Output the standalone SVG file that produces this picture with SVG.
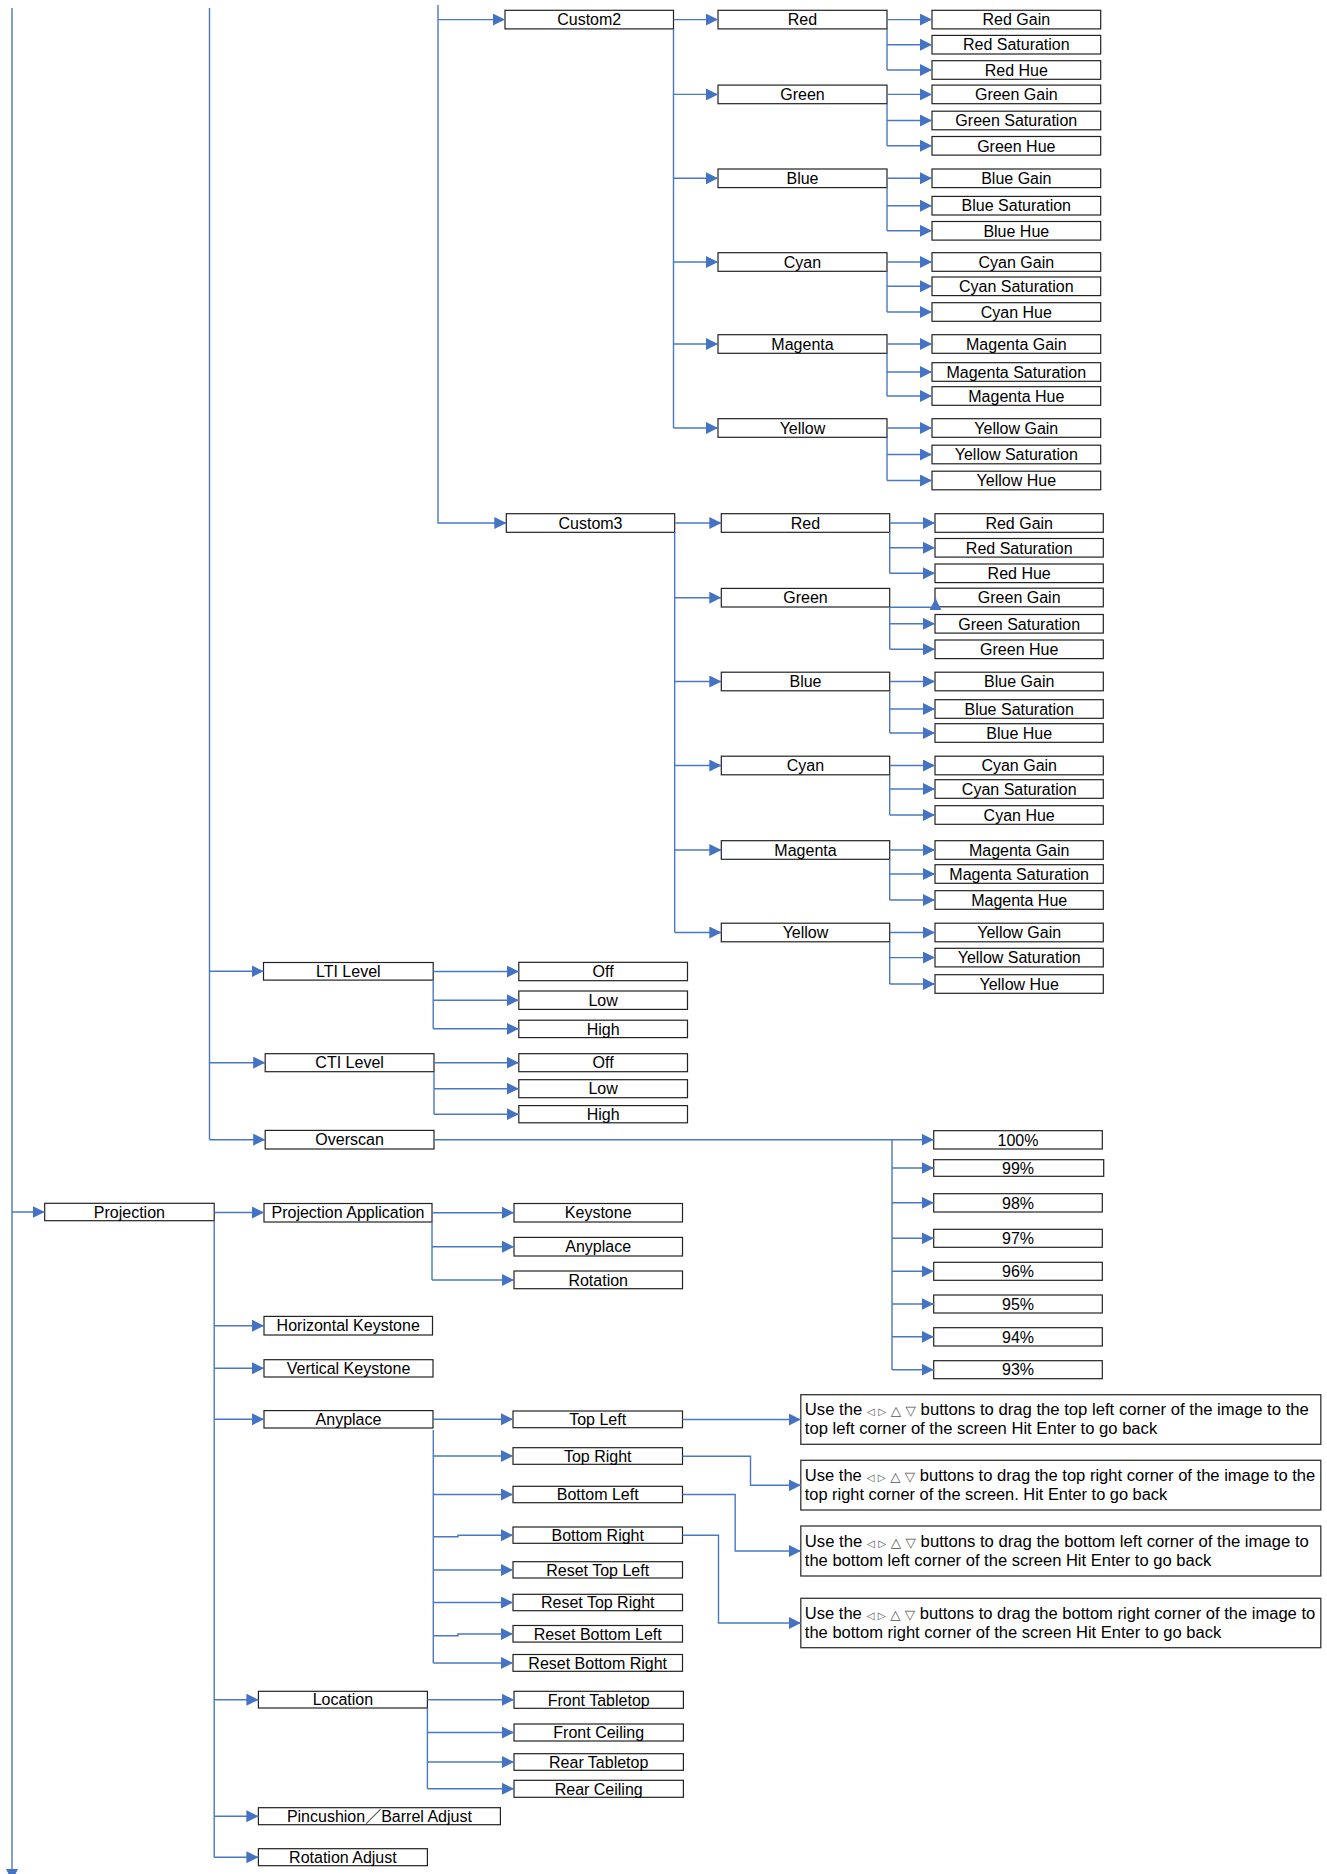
<svg xmlns="http://www.w3.org/2000/svg" width="1327" height="1874" viewBox="0 0 1327 1874">
<style>
.n rect{fill:#fff;stroke:#222;stroke-width:1.2}
.n text{font-family:"Liberation Sans",Arial,sans-serif;font-size:16px;text-anchor:middle;fill:#000}
.tb rect{fill:#fff;stroke:#333;stroke-width:1.3}
.tb text{font-family:"Liberation Sans",Arial,"DejaVu Sans",sans-serif;font-size:16px;fill:#000}
.sym{fill:#555;font-family:"DejaVu Sans",sans-serif}
.s1{font-size:10px}
.s2{font-size:13px}
.c path{fill:none;stroke:#4a78c2;stroke-width:1.4}
.c .a{marker-end:url(#ar)}
</style>
<defs>
<marker id="ar" markerUnits="userSpaceOnUse" markerWidth="12" markerHeight="12" refX="12" refY="6" orient="auto">
<path d="M0,0 L12,6 L0,12 z" fill="#4472c4"/>
</marker>
</defs>
<rect width="1327" height="1874" fill="#fff"/>

<!-- Custom2 -->
<g class="n" id="custom2"><rect x="505" y="10.3" width="168.5" height="18.6"/><text x="589.2" y="25.3">Custom2</text></g>
<g class="n" id="c2-red"><rect x="718" y="10.3" width="169" height="18.6"/><text x="802.5" y="25.3">Red</text></g>
<g class="n" id="c2-green"><rect x="718" y="85.1" width="169" height="18.6"/><text x="802.5" y="100.1">Green</text></g>
<g class="n" id="c2-blue"><rect x="718" y="169" width="169" height="18.6"/><text x="802.5" y="184">Blue</text></g>
<g class="n" id="c2-cyan"><rect x="718" y="252.7" width="169" height="18.6"/><text x="802.5" y="267.7">Cyan</text></g>
<g class="n" id="c2-magenta"><rect x="718" y="334.7" width="169" height="18.6"/><text x="802.5" y="349.7">Magenta</text></g>
<g class="n" id="c2-yellow"><rect x="718" y="418.7" width="169" height="18.6"/><text x="802.5" y="433.7">Yellow</text></g>

<g class="n" id="c2-red-gain"><rect x="932" y="10.3" width="168.7" height="18.6"/><text x="1016.3" y="25.3">Red Gain</text></g>
<g class="n" id="c2-red-sat"><rect x="932" y="35.4" width="168.7" height="18.6"/><text x="1016.3" y="50.4">Red Saturation</text></g>
<g class="n" id="c2-red-hue"><rect x="932" y="60.7" width="168.7" height="18.6"/><text x="1016.3" y="75.7">Red Hue</text></g>
<g class="n" id="c2-green-gain"><rect x="932" y="85.1" width="168.7" height="18.6"/><text x="1016.3" y="100.1">Green Gain</text></g>
<g class="n" id="c2-green-sat"><rect x="932" y="111.2" width="168.7" height="18.6"/><text x="1016.3" y="126.2">Green Saturation</text></g>
<g class="n" id="c2-green-hue"><rect x="932" y="136.5" width="168.7" height="18.6"/><text x="1016.3" y="151.5">Green Hue</text></g>
<g class="n" id="c2-blue-gain"><rect x="932" y="169" width="168.7" height="18.6"/><text x="1016.3" y="184">Blue Gain</text></g>
<g class="n" id="c2-blue-sat"><rect x="932" y="196.4" width="168.7" height="18.6"/><text x="1016.3" y="211.4">Blue Saturation</text></g>
<g class="n" id="c2-blue-hue"><rect x="932" y="221.5" width="168.7" height="18.6"/><text x="1016.3" y="236.5">Blue Hue</text></g>
<g class="n" id="c2-cyan-gain"><rect x="932" y="252.7" width="168.7" height="18.6"/><text x="1016.3" y="267.7">Cyan Gain</text></g>
<g class="n" id="c2-cyan-sat"><rect x="932" y="277" width="168.7" height="18.6"/><text x="1016.3" y="292">Cyan Saturation</text></g>
<g class="n" id="c2-cyan-hue"><rect x="932" y="302.7" width="168.7" height="18.6"/><text x="1016.3" y="317.7">Cyan Hue</text></g>
<g class="n" id="c2-magenta-gain"><rect x="932" y="334.7" width="168.7" height="18.6"/><text x="1016.3" y="349.7">Magenta Gain</text></g>
<g class="n" id="c2-magenta-sat"><rect x="932" y="362.7" width="168.7" height="18.6"/><text x="1016.3" y="377.7">Magenta Saturation</text></g>
<g class="n" id="c2-magenta-hue"><rect x="932" y="386.7" width="168.7" height="18.6"/><text x="1016.3" y="401.7">Magenta Hue</text></g>
<g class="n" id="c2-yellow-gain"><rect x="932" y="418.7" width="168.7" height="18.6"/><text x="1016.3" y="433.7">Yellow Gain</text></g>
<g class="n" id="c2-yellow-sat"><rect x="932" y="445.2" width="168.7" height="18.6"/><text x="1016.3" y="460.2">Yellow Saturation</text></g>
<g class="n" id="c2-yellow-hue"><rect x="932" y="471.2" width="168.7" height="18.6"/><text x="1016.3" y="486.2">Yellow Hue</text></g>

<!-- Custom3 -->
<g class="n" id="custom3"><rect x="506.3" y="513.7" width="168.4" height="18.6"/><text x="590.5" y="528.7">Custom3</text></g>
<g class="n" id="c3-red"><rect x="721.3" y="513.7" width="168.4" height="18.6"/><text x="805.5" y="528.7">Red</text></g>
<g class="n" id="c3-green"><rect x="721.3" y="588.4" width="168.4" height="18.6"/><text x="805.5" y="603.4">Green</text></g>
<g class="n" id="c3-blue"><rect x="721.3" y="672.2" width="168.4" height="18.6"/><text x="805.5" y="687.2">Blue</text></g>
<g class="n" id="c3-cyan"><rect x="721.3" y="756.2" width="168.4" height="18.6"/><text x="805.5" y="771.2">Cyan</text></g>
<g class="n" id="c3-magenta"><rect x="721.3" y="840.7" width="168.4" height="18.6"/><text x="805.5" y="855.7">Magenta</text></g>
<g class="n" id="c3-yellow"><rect x="721.3" y="923.2" width="168.4" height="18.6"/><text x="805.5" y="938.2">Yellow</text></g>

<g class="n" id="c3-red-gain"><rect x="935" y="513.7" width="168.3" height="18.6"/><text x="1019.2" y="528.7">Red Gain</text></g>
<g class="n" id="c3-red-sat"><rect x="935" y="538.5" width="168.3" height="18.6"/><text x="1019.2" y="553.5">Red Saturation</text></g>
<g class="n" id="c3-red-hue"><rect x="935" y="564" width="168.3" height="18.6"/><text x="1019.2" y="579">Red Hue</text></g>
<g class="n" id="c3-green-gain"><rect x="935" y="588.2" width="168.3" height="18.6"/><text x="1019.2" y="603.2">Green Gain</text></g>
<g class="n" id="c3-green-sat"><rect x="935" y="614.5" width="168.3" height="18.6"/><text x="1019.2" y="629.5">Green Saturation</text></g>
<g class="n" id="c3-green-hue"><rect x="935" y="640" width="168.3" height="18.6"/><text x="1019.2" y="655">Green Hue</text></g>
<g class="n" id="c3-blue-gain"><rect x="935" y="672.2" width="168.3" height="18.6"/><text x="1019.2" y="687.2">Blue Gain</text></g>
<g class="n" id="c3-blue-sat"><rect x="935" y="699.7" width="168.3" height="18.6"/><text x="1019.2" y="714.7">Blue Saturation</text></g>
<g class="n" id="c3-blue-hue"><rect x="935" y="723.7" width="168.3" height="18.6"/><text x="1019.2" y="738.7">Blue Hue</text></g>
<g class="n" id="c3-cyan-gain"><rect x="935" y="756.2" width="168.3" height="18.6"/><text x="1019.2" y="771.2">Cyan Gain</text></g>
<g class="n" id="c3-cyan-sat"><rect x="935" y="779.7" width="168.3" height="18.6"/><text x="1019.2" y="794.7">Cyan Saturation</text></g>
<g class="n" id="c3-cyan-hue"><rect x="935" y="805.7" width="168.3" height="18.6"/><text x="1019.2" y="820.7">Cyan Hue</text></g>
<g class="n" id="c3-magenta-gain"><rect x="935" y="840.7" width="168.3" height="18.6"/><text x="1019.2" y="855.7">Magenta Gain</text></g>
<g class="n" id="c3-magenta-sat"><rect x="935" y="864.7" width="168.3" height="18.6"/><text x="1019.2" y="879.7">Magenta Saturation</text></g>
<g class="n" id="c3-magenta-hue"><rect x="935" y="890.7" width="168.3" height="18.6"/><text x="1019.2" y="905.7">Magenta Hue</text></g>
<g class="n" id="c3-yellow-gain"><rect x="935" y="923.2" width="168.3" height="18.6"/><text x="1019.2" y="938.2">Yellow Gain</text></g>
<g class="n" id="c3-yellow-sat"><rect x="935" y="948.3" width="168.3" height="18.6"/><text x="1019.2" y="963.3">Yellow Saturation</text></g>
<g class="n" id="c3-yellow-hue"><rect x="935" y="974.7" width="168.3" height="18.6"/><text x="1019.2" y="989.7">Yellow Hue</text></g>

<!-- LTI / CTI / Overscan -->
<g class="n" id="lti"><rect x="263.5" y="962.5" width="169.7" height="17.6"/><text x="348.3" y="977">LTI Level</text></g>
<g class="n" id="lti-off"><rect x="518.8" y="962.3" width="168.7" height="18.4"/><text x="603.1" y="977.2">Off</text></g>
<g class="n" id="lti-low"><rect x="518.8" y="991" width="168.7" height="18.4"/><text x="603.1" y="1005.9">Low</text></g>
<g class="n" id="lti-high"><rect x="518.8" y="1020.2" width="168.7" height="17.4"/><text x="603.1" y="1034.5">High</text></g>
<g class="n" id="cti"><rect x="265.2" y="1053.7" width="168.8" height="18"/><text x="349.6" y="1068.4">CTI Level</text></g>
<g class="n" id="cti-off"><rect x="518.8" y="1053.7" width="168.7" height="18"/><text x="603.1" y="1068.4">Off</text></g>
<g class="n" id="cti-low"><rect x="518.8" y="1079.7" width="168.7" height="18"/><text x="603.1" y="1094.4">Low</text></g>
<g class="n" id="cti-high"><rect x="518.8" y="1105.6" width="168.7" height="17.2"/><text x="603.1" y="1119.9">High</text></g>
<g class="n" id="overscan"><rect x="265.2" y="1130.4" width="168.8" height="18.6"/><text x="349.6" y="1145.4">Overscan</text></g>
<g class="n" id="p100"><rect x="933.7" y="1130.7" width="168.6" height="18.3"/><text x="1018" y="1145.5">100%</text></g>
<g class="n" id="p99"><rect x="933.7" y="1159.7" width="170" height="16.6"/><text x="1018" y="1173.7">99%</text></g>
<g class="n" id="p98"><rect x="933.7" y="1193.7" width="168.6" height="18.3"/><text x="1018" y="1208.5">98%</text></g>
<g class="n" id="p97"><rect x="933.7" y="1229.3" width="168.6" height="18"/><text x="1018" y="1244">97%</text></g>
<g class="n" id="p96"><rect x="933.7" y="1262.3" width="168.6" height="18"/><text x="1018" y="1277">96%</text></g>
<g class="n" id="p95"><rect x="933.7" y="1295" width="168.6" height="18"/><text x="1018" y="1309.7">95%</text></g>
<g class="n" id="p94"><rect x="933.7" y="1327.7" width="168.6" height="18.3"/><text x="1018" y="1342.5">94%</text></g>
<g class="n" id="p93"><rect x="933.7" y="1360.7" width="168.6" height="18"/><text x="1018" y="1375.4">93%</text></g>

<!-- Projection -->
<g class="n" id="projection"><rect x="44.7" y="1203.3" width="169.5" height="17.4"/><text x="129.4" y="1217.7">Projection</text></g>
<g class="n" id="proj-app"><rect x="264" y="1203.5" width="168" height="18.5"/><text x="348" y="1218.4">Projection Application</text></g>
<g class="n" id="pa-keystone"><rect x="514" y="1203.5" width="168.5" height="18.5"/><text x="598.2" y="1218.4">Keystone</text></g>
<g class="n" id="pa-anyplace"><rect x="514" y="1237.4" width="168.5" height="18.6"/><text x="598.2" y="1252.4">Anyplace</text></g>
<g class="n" id="pa-rotation"><rect x="514" y="1271" width="168.5" height="17.7"/><text x="598.2" y="1285.6">Rotation</text></g>
<g class="n" id="h-keystone"><rect x="264" y="1316.4" width="168.5" height="18.6"/><text x="348.2" y="1331.4">Horizontal Keystone</text></g>
<g class="n" id="v-keystone"><rect x="264" y="1359.7" width="169" height="17.3"/><text x="348.5" y="1374">Vertical Keystone</text></g>
<g class="n" id="anyplace"><rect x="264" y="1410.6" width="169" height="17.4"/><text x="348.5" y="1425">Anyplace</text></g>
<g class="n" id="top-left"><rect x="513" y="1411" width="169.5" height="16.7"/><text x="597.7" y="1425">Top Left</text></g>
<g class="n" id="top-right"><rect x="513" y="1447.7" width="169.5" height="16.6"/><text x="597.7" y="1461.7">Top Right</text></g>
<g class="n" id="bottom-left"><rect x="513" y="1486.3" width="169.5" height="16.4"/><text x="597.7" y="1500.2">Bottom Left</text></g>
<g class="n" id="bottom-right"><rect x="513" y="1527" width="169.5" height="16.3"/><text x="597.7" y="1540.9">Bottom Right</text></g>
<g class="n" id="reset-tl"><rect x="513" y="1561.7" width="169.5" height="16.3"/><text x="597.7" y="1575.7">Reset Top Left</text></g>
<g class="n" id="reset-tr"><rect x="513" y="1594.3" width="169.5" height="16.4"/><text x="597.7" y="1608.2">Reset Top Right</text></g>
<g class="n" id="reset-bl"><rect x="513" y="1625.5" width="169.5" height="16.6"/><text x="597.7" y="1639.7">Reset Bottom Left</text></g>
<g class="n" id="reset-br"><rect x="513" y="1654.5" width="169.5" height="16.8"/><text x="597.7" y="1668.7">Reset Bottom Right</text></g>

<g class="tb" id="tb-top-left"><rect x="800.8" y="1394.7" width="520" height="49.6"/>
<text x="804.8" y="1415" textLength="504" lengthAdjust="spacingAndGlyphs">Use the <tspan class="sym s1">◁ ▷</tspan> <tspan class="sym s2">△ ▽</tspan> buttons to drag the top left corner of the image to the</text>
<text x="804.8" y="1434" textLength="352.4" lengthAdjust="spacingAndGlyphs">top left corner of the screen Hit Enter to go back</text></g>
<g class="tb" id="tb-top-right"><rect x="800.8" y="1460.3" width="520" height="49.7"/>
<text x="804.8" y="1480.7" textLength="510.4" lengthAdjust="spacingAndGlyphs">Use the <tspan class="sym s1">◁ ▷</tspan> <tspan class="sym s2">△ ▽</tspan> buttons to drag the top right corner of the image to the</text>
<text x="804.8" y="1499.7" textLength="362.4" lengthAdjust="spacingAndGlyphs">top right corner of the screen. Hit Enter to go back</text></g>
<g class="tb" id="tb-bottom-left"><rect x="800.8" y="1526" width="520" height="50"/>
<text x="804.8" y="1546.7" textLength="504" lengthAdjust="spacingAndGlyphs">Use the <tspan class="sym s1">◁ ▷</tspan> <tspan class="sym s2">△ ▽</tspan> buttons to drag the bottom left corner of the image to</text>
<text x="804.8" y="1565.7" textLength="406.4" lengthAdjust="spacingAndGlyphs">the bottom left corner of the screen Hit Enter to go back</text></g>
<g class="tb" id="tb-bottom-right"><rect x="800.8" y="1598.3" width="520" height="49.4"/>
<text x="804.8" y="1619" textLength="510.4" lengthAdjust="spacingAndGlyphs">Use the <tspan class="sym s1">◁ ▷</tspan> <tspan class="sym s2">△ ▽</tspan> buttons to drag the bottom right corner of the image to</text>
<text x="804.8" y="1638" textLength="416.4" lengthAdjust="spacingAndGlyphs">the bottom right corner of the screen Hit Enter to go back</text></g>

<g class="n" id="location"><rect x="258.4" y="1691.3" width="169" height="16.7"/><text x="342.9" y="1705.4">Location</text></g>
<g class="n" id="front-tabletop"><rect x="514" y="1691.3" width="169.4" height="17"/><text x="598.7" y="1705.5">Front Tabletop</text></g>
<g class="n" id="front-ceiling"><rect x="514" y="1724" width="169.4" height="17"/><text x="598.7" y="1738.2">Front Ceiling</text></g>
<g class="n" id="rear-tabletop"><rect x="514" y="1753.7" width="169.4" height="16.6"/><text x="598.7" y="1767.7">Rear Tabletop</text></g>
<g class="n" id="rear-ceiling"><rect x="514" y="1780.3" width="169.4" height="17"/><text x="598.7" y="1794.5">Rear Ceiling</text></g>
<g class="n" id="pincushion"><rect x="258.4" y="1807.7" width="242" height="17"/><text x="379.4" y="1821.9" style="font-family:'Liberation Sans','Noto Sans CJK SC',sans-serif">Pincushion／Barrel Adjust</text></g>
<g class="n" id="rotation-adjust"><rect x="258.4" y="1848.7" width="169" height="17"/><text x="342.9" y="1862.9">Rotation Adjust</text></g>

<g class="c" id="connectors">
<path class="a" d="M12,8 V1881"/>
<path d="M209.5,8 V1139.7"/>
<path class="a" d="M438,5 V523 H506.3"/>
<path class="a" d="M438,19.6 H505"/>
<path class="a" d="M673.5,19.6 H718"/>
<path d="M673.5,29 V428"/>
<path class="a" d="M673.5,94.4 H718"/>
<path class="a" d="M673.5,178.3 H718"/>
<path class="a" d="M673.5,262 H718"/>
<path class="a" d="M673.5,344 H718"/>
<path class="a" d="M673.5,428 H718"/>
<path d="M887,29 V70"/>
<path class="a" d="M887,19.6 H932"/><path class="a" d="M887,44.7 H932"/><path class="a" d="M887,70 H932"/>
<path d="M887,103.7 V145.8"/>
<path class="a" d="M887,94.4 H932"/><path class="a" d="M887,120.5 H932"/><path class="a" d="M887,145.8 H932"/>
<path d="M887,187.6 V230.8"/>
<path class="a" d="M887,178.3 H932"/><path class="a" d="M887,205.7 H932"/><path class="a" d="M887,230.8 H932"/>
<path d="M887,271.3 V312"/>
<path class="a" d="M887,262 H932"/><path class="a" d="M887,286.3 H932"/><path class="a" d="M887,312 H932"/>
<path d="M887,353.3 V396"/>
<path class="a" d="M887,344 H932"/><path class="a" d="M887,372 H932"/><path class="a" d="M887,396 H932"/>
<path d="M887,437.3 V480.5"/>
<path class="a" d="M887,428 H932"/><path class="a" d="M887,454.5 H932"/><path class="a" d="M887,480.5 H932"/>
<path class="a" d="M674.7,523 H721.3"/>
<path d="M674.7,532.3 V932.5"/>
<path class="a" d="M674.7,597.7 H721.3"/>
<path class="a" d="M674.7,681.5 H721.3"/>
<path class="a" d="M674.7,765.5 H721.3"/>
<path class="a" d="M674.7,850 H721.3"/>
<path class="a" d="M674.7,932.5 H721.3"/>
<path d="M889.7,532.3 V573.3"/>
<path class="a" d="M889.7,523 H935"/><path class="a" d="M889.7,547.8 H935"/><path class="a" d="M889.7,573.3 H935"/>
<path d="M889.7,607 V649.3"/>
<path class="a" d="M889.7,607.3 H935.5 V598.3"/><path class="a" d="M889.7,623.8 H935"/><path class="a" d="M889.7,649.3 H935"/>
<path d="M889.7,690.8 V733"/>
<path class="a" d="M889.7,681.5 H935"/><path class="a" d="M889.7,709 H935"/><path class="a" d="M889.7,733 H935"/>
<path d="M889.7,774.8 V815"/>
<path class="a" d="M889.7,765.5 H935"/><path class="a" d="M889.7,789 H935"/><path class="a" d="M889.7,815 H935"/>
<path d="M889.7,859.3 V900"/>
<path class="a" d="M889.7,850 H935"/><path class="a" d="M889.7,874 H935"/><path class="a" d="M889.7,900 H935"/>
<path d="M889.7,941.8 V984"/>
<path class="a" d="M889.7,932.5 H935"/><path class="a" d="M889.7,957.6 H935"/><path class="a" d="M889.7,984 H935"/>
<path class="a" d="M209.5,971.3 H263.5"/>
<path class="a" d="M433.2,971.5 H518.8"/>
<path d="M433.2,980 V1028.8"/>
<path class="a" d="M433.2,1000.2 H518.8"/><path class="a" d="M433.2,1028.8 H518.8"/>
<path class="a" d="M209.5,1062.7 H265.2"/>
<path class="a" d="M434,1062.7 H518.8"/>
<path d="M434,1071.7 V1114.2"/>
<path class="a" d="M434,1088.7 H518.8"/><path class="a" d="M434,1114.2 H518.8"/>
<path class="a" d="M209.5,1139.7 H265.2"/>
<path class="a" d="M434,1139.7 H933.7"/>
<path d="M892,1139.7 V1369.7"/>
<path class="a" d="M892,1168 H933.7"/><path class="a" d="M892,1202.8 H933.7"/><path class="a" d="M892,1238.3 H933.7"/>
<path class="a" d="M892,1271.3 H933.7"/><path class="a" d="M892,1304 H933.7"/><path class="a" d="M892,1336.8 H933.7"/>
<path class="a" d="M892,1369.7 H933.7"/>
<path class="a" d="M12,1212 H44.7"/>
<path class="a" d="M214.2,1212.5 H264"/>
<path d="M214.2,1220.7 V1857.2"/>
<path class="a" d="M214.2,1325.7 H264"/>
<path class="a" d="M214.2,1368.3 H264"/>
<path class="a" d="M214.2,1419.3 H264"/>
<path class="a" d="M214.2,1699.7 H258.4"/>
<path class="a" d="M214.2,1816.2 H258.4"/>
<path class="a" d="M214.2,1857.2 H258.4"/>
<path class="a" d="M432,1212.7 H514"/>
<path d="M432,1222 V1280"/>
<path class="a" d="M432,1246.7 H514"/><path class="a" d="M432,1280 H514"/>
<path class="a" d="M433,1419.3 H513"/>
<path d="M433.3,1430 V1663"/>
<path class="a" d="M433.3,1456 H513"/>
<path class="a" d="M433.3,1494.5 H513"/>
<path class="a" d="M433.3,1536.7 H458 V1535.2 H513"/>
<path class="a" d="M433.3,1570 H513"/>
<path class="a" d="M433.3,1602.5 H513"/>
<path class="a" d="M433.3,1635.7 H458 V1634 H513"/>
<path class="a" d="M433.3,1663 H513"/>
<path class="a" d="M682.5,1419.5 H800.8"/>
<path class="a" d="M682.5,1456.3 H750.5 V1485.3 H800.8"/>
<path class="a" d="M682.5,1494.5 H735.2 V1551 H800.8"/>
<path class="a" d="M682.5,1535.2 H718.5 V1623 H800.8"/>
<path class="a" d="M427.4,1699.8 H514"/>
<path d="M427.4,1708 V1788.8"/>
<path class="a" d="M427.4,1732.5 H514"/><path class="a" d="M427.4,1762 H514"/><path class="a" d="M427.4,1788.8 H514"/>
</g>
</svg>
